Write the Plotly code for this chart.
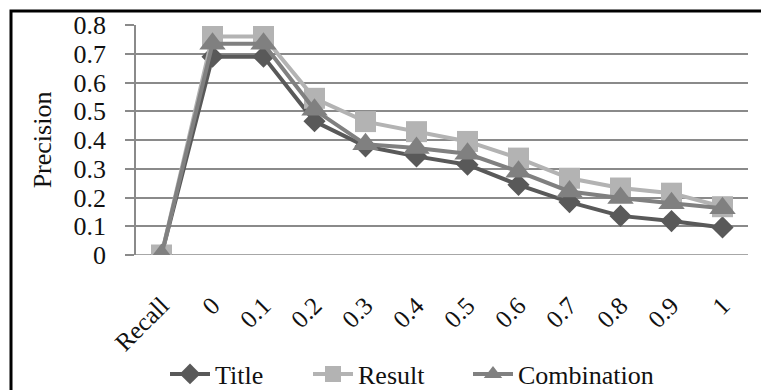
import plotly.graph_objects as go

categories = ["Recall", "0", "0.1", "0.2", "0.3", "0.4", "0.5", "0.6", "0.7", "0.8", "0.9", "1"]
title_vals = [0, 0.69, 0.69, 0.465, 0.378, 0.343, 0.314, 0.244, 0.184, 0.136, 0.118, 0.096]
result_vals = [0, 0.76, 0.76, 0.545, 0.464, 0.429, 0.395, 0.337, 0.267, 0.233, 0.215, 0.168]
combo_vals = [0, 0.735, 0.735, 0.505, 0.385, 0.372, 0.352, 0.29, 0.221, 0.198, 0.18, 0.163]
y_ticks = [0, 0.1, 0.2, 0.3, 0.4, 0.5, 0.6, 0.7, 0.8]

FONT = "Liberation Serif"
TXT = "#111111"

# the page body adds an 8px offset; the figure is sized/positioned to compensate
W, H = 761, 382
L, T, R, B = 128, 17, 21, 135
PW, PH = W - L - R, H - T - B


def px(xf):
    return (xf - L) / PW


def py(yf):
    return (H - B - yf) / PH


fig = go.Figure()
fig.add_trace(go.Scatter(x=categories, y=title_vals, name="Title", mode="lines+markers",
                         line=dict(color="#595959", width=4), legend="legend",
                         marker=dict(symbol="diamond", size=17, color="#595959")))
fig.add_trace(go.Scatter(x=categories, y=result_vals, name="Result", mode="lines+markers",
                         line=dict(color="#b3b3b3", width=4), legend="legend",
                         marker=dict(symbol="square", size=21, color="#b3b3b3")))
fig.add_trace(go.Scatter(x=categories, y=combo_vals, name="Combination", mode="lines+markers",
                         line=dict(color="#808080", width=4), legend="legend2",
                         marker=dict(symbol="triangle-up", size=23, color="#808080")))

# outer frame (extends beyond the picture on the right and bottom)
fig.add_shape(type="rect", xref="paper", yref="paper",
              x0=px(3), x1=px(W + 20), y0=py(H + 30), y1=py(3),
              line=dict(color="black", width=3), fillcolor="rgba(0,0,0,0)", layer="below")

LEG_Y = py(366)
fig.update_layout(
    width=W, height=H,
    margin=dict(l=L, t=T, r=R, b=B, autoexpand=False),
    paper_bgcolor="white", plot_bgcolor="white",
    font=dict(family=FONT, size=26, color=TXT),
    showlegend=True,
    legend=dict(orientation="h", x=px(157), xanchor="left", y=LEG_Y, yanchor="middle",
                font=dict(family=FONT, size=26, color=TXT), itemwidth=40,
                entrywidth=88, entrywidthmode="pixels",
                tracegroupgap=0, bgcolor="rgba(0,0,0,0)"),
    legend2=dict(orientation="h", x=px(460), xanchor="left", y=LEG_Y, yanchor="middle",
                 font=dict(family=FONT, size=26, color=TXT), itemwidth=40,
                 tracegroupgap=0, bgcolor="rgba(0,0,0,0)"),
    xaxis=dict(type="category", tickangle=-45, showgrid=False, showline=False,
               ticks="", tickfont=dict(family=FONT, size=25, color=TXT),
               ticklabelstandoff=30,
               range=[-0.5, 11.5], zeroline=False, automargin=False),
    yaxis=dict(range=[0, 0.8], tickvals=y_ticks, ticktext=[f"{v:g}" for v in y_ticks],
               showgrid=True, gridcolor="#8a8a8a", gridwidth=1.5,
               showline=True, linecolor="#8a8a8a", linewidth=1.5,
               ticks="outside", ticklen=9, tickcolor="#8a8a8a", tickwidth=1.5,
               ticklabelstandoff=14, automargin=False,
               tickfont=dict(family=FONT, size=26, color=TXT),
               title=dict(text="Precision", font=dict(family=FONT, size=26, color=TXT), standoff=14),
               zeroline=False),
)
fig.add_hline(y=0, line=dict(color="#8a8a8a", width=1.5), layer="below")

fig.write_html("out.html")
